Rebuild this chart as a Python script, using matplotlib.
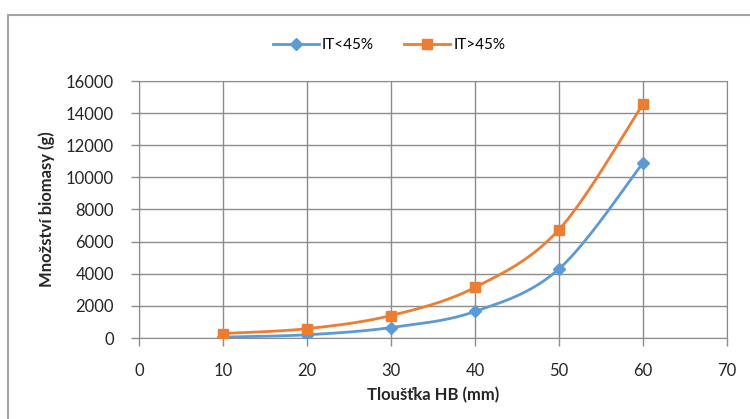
import matplotlib.pyplot as plt
from matplotlib.patches import Rectangle
import numpy as np

# data
thickness = [10, 20, 30, 40, 50, 60]
it_low = [60, 200, 650, 1650, 4300, 10900]
it_high = [280, 580, 1400, 3150, 6750, 14580]
labels = ['IT<45%', 'IT>45%']
colors = ['#5B9BD5', '#ED7D31']
markers = ['D', 's']

plt.rcParams['font.family'] = ['Lato', 'DejaVu Sans']


def smooth(x, y, n=30):
    """Excel-like smoothed line (Catmull-Rom bezier through the points)"""
    x = np.asarray(x, float)
    y = np.asarray(y, float)
    px = np.concatenate([[x[0]], x, [x[-1]]])
    py = np.concatenate([[y[0]], y, [y[-1]]])
    xs, ys = [], []
    t = np.linspace(0, 1, n)
    for i in range(1, len(px) - 2):
        p0 = np.array([px[i], py[i]])
        p3 = np.array([px[i + 1], py[i + 1]])
        p1 = p0 + (np.array([px[i + 1], py[i + 1]]) - np.array([px[i - 1], py[i - 1]])) / 6
        p2 = p3 - (np.array([px[i + 2], py[i + 2]]) - np.array([px[i], py[i]])) / 6
        b = ((1 - t) ** 3)[:, None] * p0 + (3 * (1 - t) ** 2 * t)[:, None] * p1 \
            + (3 * (1 - t) * t ** 2)[:, None] * p2 + (t ** 3)[:, None] * p3
        xs.extend(b[:, 0])
        ys.extend(b[:, 1])
    return xs, ys


fig = plt.figure(figsize=(7.5, 4.19), dpi=100)
fig.patches.append(Rectangle((8 / 750, -0.1), 1.2, (419 - 15) / 419 + 0.1,
                             transform=fig.transFigure, fill=False,
                             edgecolor='#A6A6A6', linewidth=1.5))

ax = fig.add_axes([139 / 750, 81 / 419, 588 / 750, 257 / 419])

for vals, lab, c, m in zip([it_low, it_high], labels, colors, markers):
    ms = 6.5 if m == 'D' else 7.5
    sx, sy = smooth(thickness, vals)
    ax.plot(sx, sy, color=c, linewidth=2, zorder=3)
    ax.plot(thickness, vals, linestyle='none', marker=m, color=c, markersize=ms, zorder=4)
    ax.plot([], [], color=c, linewidth=2, marker=m, markersize=ms, label=lab)

ax.set_xlim(0, 70)
ax.set_ylim(0, 16000)
ax.set_xticks(range(0, 71, 10))
ax.set_yticks(range(0, 16001, 2000))
ax.grid(True, color='#8C8C8C', linewidth=1)
ax.set_axisbelow(True)
for s in ax.spines.values():
    s.set_color('#8C8C8C')
ax.tick_params(colors='#8C8C8C', labelcolor='#262626', labelsize=12, length=6, width=1)
ax.tick_params(axis='x', pad=12)
ax.tick_params(axis='y', pad=12)

ax.set_xlabel('Tloušťka HB (mm)', fontsize=12, fontweight='bold', color='#262626', labelpad=6)
ax.set_ylabel('Množství biomasy (g)', fontsize=12, fontweight='bold', color='#262626', labelpad=8)

fig.legend(loc='center', bbox_to_anchor=(389 / 750, 1 - 45 / 419), ncol=2, frameon=False,
           fontsize=11, handlelength=3, columnspacing=2, handletextpad=0.2)

fig.savefig('out.png', dpi=100)
